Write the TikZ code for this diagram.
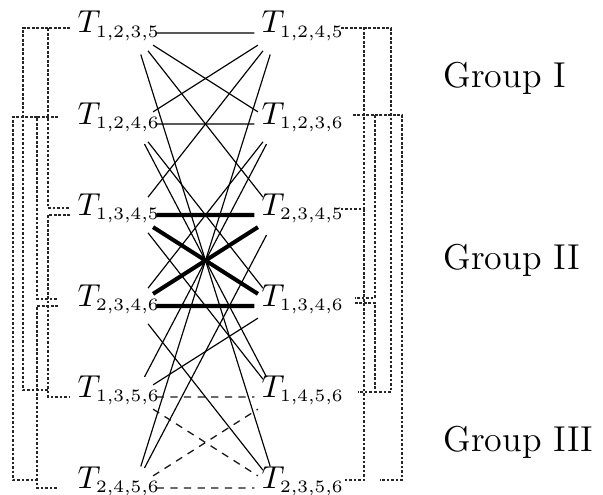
\documentclass[tikz,border=0pt]{standalone}
\DeclareMathSizes{10.95}{10.95}{6}{5}
\tikzset{
  lab/.style={anchor=base west, inner sep=0pt, font=\fontsize{10.95}{13}\selectfont},
  grp/.style={anchor=base west, inner sep=0pt, font=\fontsize{12.4}{14}\selectfont},
  hub/.style={circle, minimum size=15.2pt, inner sep=0pt, draw=none},
  thinedge/.style={line width=0.4pt},
  thickedge/.style={line width=1.4pt},
  dashedge/.style={line width=0.45pt, black!90, dash pattern=on 2.5pt off 2.2pt},
  dotline/.style={line width=0.35pt, black!85, dash pattern=on 0.9pt off 0.65pt}
}
\begin{document}
\begin{tikzpicture}[x=0.3448pt, y=-0.3448pt]
\useasboundingbox (0,0) rectangle (603,495);
% labels
\node[lab] (l1) at (77,33)  {$T_{1,2,3,5}$};
\node[lab] (l2) at (77,124) {$T_{1,2,4,6}$};
\node[lab] (l3) at (77,215) {$T_{1,3,4,5}$};
\node[lab] (l4) at (77,306) {$T_{2,3,4,6}$};
\node[lab] (l5) at (77,397) {$T_{1,3,5,6}$};
\node[lab] (l6) at (77,488) {$T_{2,4,5,6}$};
\node[lab] (r1) at (261,33)  {$T_{1,2,4,5}$};
\node[lab] (r2) at (261,124) {$T_{1,2,3,6}$};
\node[lab] (r3) at (261,215) {$T_{2,3,4,5}$};
\node[lab] (r4) at (261,306) {$T_{1,3,4,6}$};
\node[lab] (r5) at (261,397) {$T_{1,4,5,6}$};
\node[lab] (r6) at (261,488) {$T_{2,3,5,6}$};
\node[grp] (g1) at (443,87)  {Group I};
\node[grp] (g2) at (443,269) {Group II};
\node[grp] (g3) at (443,451) {Group III};
% hubs for the edges
\foreach \i/\y in {1/33,2/124,3/215,4/306,5/397,6/488}{
  \node[hub] (a\i) at (134,\y) {};
  \node[hub] (b\i) at (277,\y) {};
}
% thin edges
\draw[thinedge] (a1) -- (b1) (a1) -- (b2) (a1) -- (b3) (a1) -- (b6);
\draw[thinedge] (a2) -- (b1) (a2) -- (b2) (a2) -- (b4) (a2) -- (b5);
\draw[thinedge] (a3) -- (b1) (a3) -- (b5);
\draw[thinedge] (a4) -- (b2) (a4) -- (b6);
\draw[thinedge] (a5) -- (b2) (a5) -- (b4);
\draw[thinedge] (a6) -- (b1) (a6) -- (b3);
% thick edges
\draw[thickedge] (a3) -- (b3) (a3) -- (b4) (a4) -- (b3) (a4) -- (b4);
% dashed edges
\draw[dashedge] (a5) -- (b5) (a5) -- (b6) (a6) -- (b5) (a6) -- (b6);
% left brackets
\draw[dotline] (70,28) -| (48,208) -- (70,208);
\draw[dotline] (48,28) -| (23,390) -- (48,390);
\draw[dotline] (70,215) -| (48,397) -- (70,397);
\draw[dotline] (58,117) -| (37,299) -- (58,299);
\draw[dotline] (37,117) -| (13,480) -- (37,480);
\draw[dotline] (58,306) -| (37,488) -- (58,488);
% right brackets
\draw[dotline] (341,28) -| (364,209) -- (341,209);
\draw[dotline] (364,209) |- (345,480);
\draw[dotline] (364,28) -| (391,392) -- (375,392);
\draw[dotline] (353,115) -| (375,298) -- (355,298);
\draw[dotline] (355,303) -| (375,392) -- (358,392);
\draw[dotline] (375,115) -| (402,480) -- (380,480);
\end{tikzpicture}
\end{document}
